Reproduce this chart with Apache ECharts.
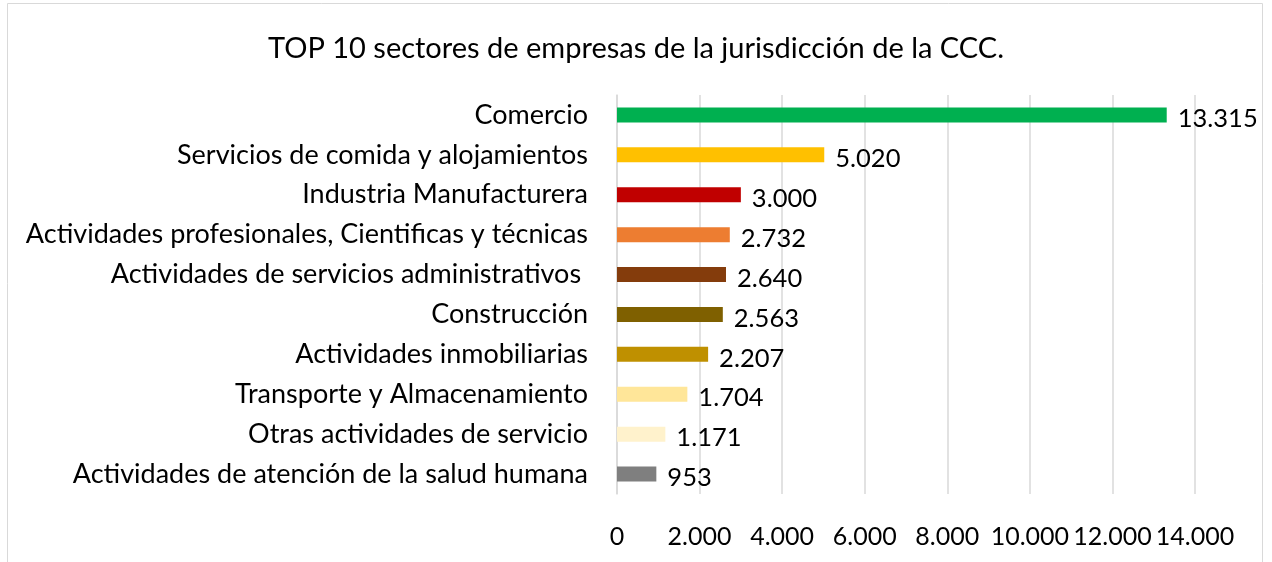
<!DOCTYPE html>
<html>
<head>
<meta charset="utf-8">
<script src="https://cdn.jsdelivr.net/npm/echarts@6/dist/echarts.min.js"></script>
<style>
  html, body { margin: 0; padding: 0; background: #fff; }
  #main { width: 1272px; height: 562px; }
</style>
</head>
<body>
<div id="main"></div>
<script>
const categories = [
  'Comercio',
  'Servicios de comida y alojamientos',
  'Industria Manufacturera',
  'Actividades profesionales, Cientificas y técnicas',
  'Actividades de servicios administrativos ',
  'Construcción',
  'Actividades inmobiliarias',
  'Transporte y Almacenamiento',
  'Otras actividades de servicio',
  'Actividades de atención de la salud humana'
]
const values = [13315, 5020, 3000, 2732, 2640, 2563, 2207, 1704, 1171, 953]
const barColors = ['#00B050', '#FFC000', '#C00000', '#ED7D31', '#843C0C', '#7F6000', '#BF9000', '#FFE699', '#FFF2CC', '#7F7F7F']
const xTicks = [0, 2000, 4000, 6000, 8000, 10000, 12000, 14000]

// thousands separator with a dot
function fmt(v) {
  return String(v).replace(/\B(?=(\d{3})+(?!\d))/g, '.')
}

let myChart = echarts.init(document.getElementById('main'))
let option = {
  textStyle: { fontFamily: 'Lato' },
  title: {
    text: 'TOP 10 sectores de empresas de la jurisdicción de la CCC.',
    left: 'center',
    top: 29,
    textStyle: { fontFamily: 'Lato', fontSize: 29, fontWeight: 'normal', color: '#000' }
  },
  graphic: [
    {
      type: 'rect',
      shape: { x: 7.5, y: 3.5, width: 1255, height: 600 },
      style: { fill: 'none', stroke: '#d9d9d9', lineWidth: 1 }
    }
  ],
  grid: { left: 617, right: 77, top: 95, bottom: 68 },
  xAxis: {
    type: 'value',
    min: xTicks[0],
    max: xTicks[xTicks.length - 1],
    interval: 2000,
    axisLine: { show: false },
    axisTick: { show: false },
    splitLine: { lineStyle: { color: '#d9d9d9', width: 1.5 } },
    axisLabel: {
      margin: 30,
      fontSize: 25,
      color: '#000',
      fontFamily: 'Lato',
      formatter: fmt
    }
  },
  yAxis: {
    type: 'category',
    inverse: true,
    data: categories,
    axisLine: { show: true, lineStyle: { color: '#d9d9d9', width: 1.5 } },
    axisTick: { show: false },
    axisLabel: { margin: 29, fontSize: 27, color: '#000', fontFamily: 'Lato' }
  },
  series: [
    {
      type: 'bar',
      barWidth: 15,
      data: values.map((v, i) => ({ value: v, itemStyle: { color: barColors[i] } })),
      label: {
        show: true,
        position: 'right',
        distance: 11,
        offset: [0, 4],
        fontSize: 25.5,
        color: '#000',
        fontFamily: 'Lato',
        formatter: p => fmt(p.value)
      }
    }
  ]
}
myChart.setOption(option)
</script>
</body>
</html>
